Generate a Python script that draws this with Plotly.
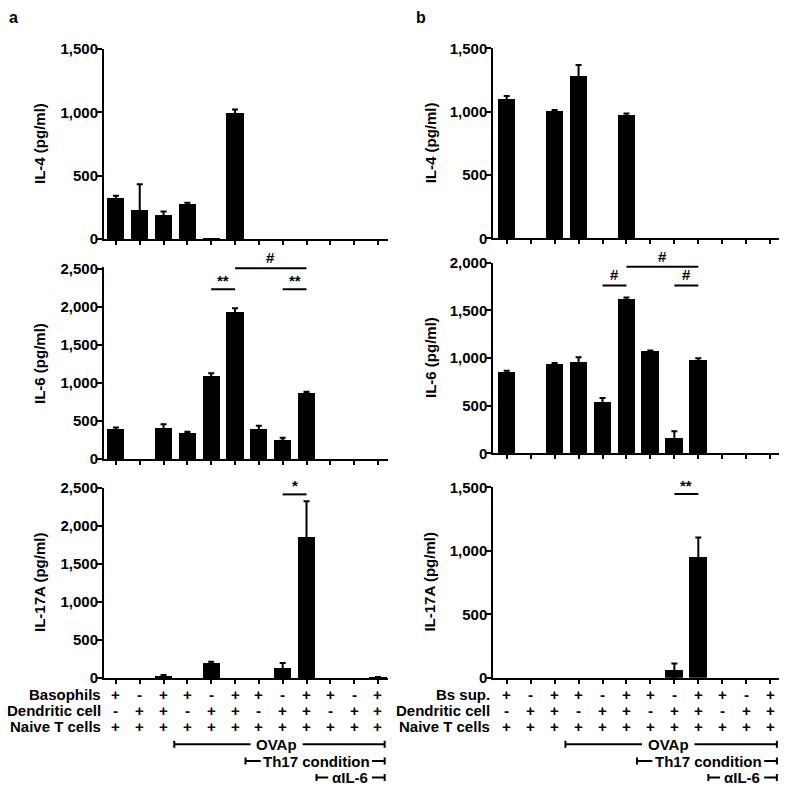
import plotly.graph_objects as go

W = H = 787          # browser window
OFF = 8              # default page margin of the html body
FW = FH = W - OFF    # figure size so that it fits exactly in the window
FONT = "Liberation Sans"

# ---------------- data ----------------
xpos = list(range(12))  # 12 culture conditions

row1_label_a = "Basophils"
row1_label_b = "Bs sup."
row2_label = "Dendritic cell"
row3_label = "Naive T cells"
row1_signs = ["+", "-", "+", "+", "-", "+", "+", "-", "+", "+", "-", "+"]
row2_signs = ["-", "+", "+", "-", "+", "+", "-", "+", "+", "-", "+", "+"]
row3_signs = ["+"] * 12

# panel a
a_il4 = [321, 227, 193, 273, 4, 992, 0, 0, 0, 0, 0, 0]
a_il4_err = [21, 206, 24, 13, 0, 30, 0, 0, 0, 0, 0, 0]
a_il6 = [395, 0, 417, 346, 1092, 1939, 399, 259, 873, 0, 0, 0]
a_il6_err = [20, 0, 40, 12, 35, 45, 40, 20, 13, 0, 0, 0]
a_il17 = [0, 0, 30, 0, 195, 0, 0, 137, 1850, 0, 0, 10]
a_il17_err = [0, 0, 10, 0, 18, 0, 0, 60, 475, 0, 0, 4]

# panel b
b_il4 = [1100, 0, 1005, 1282, 0, 968, 0, 0, 0, 0, 0, 0]
b_il4_err = [24, 0, 8, 87, 0, 18, 0, 0, 0, 0, 0, 0]
b_il6 = [853, 0, 937, 962, 538, 1622, 1073, 168, 979, 0, 0, 0]
b_il6_err = [14, 0, 10, 45, 42, 14, 7, 63, 18, 0, 0, 0]
b_il17 = [0, 0, 0, 0, 0, 0, 0, 60, 946, 0, 0, 0]
b_il17_err = [0, 0, 0, 0, 0, 0, 0, 53, 158, 0, 0, 0]

ticks_1500 = [0, 500, 1000, 1500]
ticks_2000 = [0, 500, 1000, 1500, 2000]
ticks_2500 = [0, 500, 1000, 1500, 2000, 2500]

# significance: (text, from condition, to condition, level)
sig_a_il6 = [("**", 4, 5, 2232), ("#", 5, 8, 2509), ("**", 7, 8, 2232)]
sig_a_il17 = [("*", 7, 8, 2416)]
sig_b_il6 = [("#", 4, 5, 1762), ("#", 5, 8, 1958), ("#", 7, 8, 1762)]
sig_b_il17 = [("**", 7, 8, 1448)]

# treatment brackets: (text, start, gap start, gap end, end) in condition units
brackets = [("OVAp", 2.45, 5.65, 7.84, 11.28),
            ("Th17 condition", 5.44, 6.08, 10.75, 11.28),
            ("\u03b1IL-6", 8.42, 8.91, 10.75, 11.28)]

# ---------------- layout geometry (window pixels) ----------------
panels = [
    dict(label="a", lab_x=8, xdom=(104, 388), xr=(-0.5, 11.42), title_x=39,
         row_label_x=103, row1=row1_label_a,
         rows=[
             dict(v=a_il4, e=a_il4_err, t="IL-4 (pg/ml)", ticks=ticks_1500, bot=239, top=49, rtop=1500, sig=[]),
             dict(v=a_il6, e=a_il6_err, t="IL-6 (pg/ml)", ticks=ticks_2500, bot=459, top=269, rtop=2530, sig=sig_a_il6),
             dict(v=a_il17, e=a_il17_err, t="IL-17A (pg/ml)", ticks=ticks_2500, bot=678, top=488, rtop=2500, sig=sig_a_il17),
         ]),
    dict(label="b", lab_x=415, xdom=(493.3, 780.7), xr=(-0.56, 11.44), title_x=430,
         row_label_x=492, row1=row1_label_b,
         rows=[
             dict(v=b_il4, e=b_il4_err, t="IL-4 (pg/ml)", ticks=ticks_1500, bot=238.3, top=48.3, rtop=1500, sig=[]),
             dict(v=b_il6, e=b_il6_err, t="IL-6 (pg/ml)", ticks=ticks_2000, bot=453.3, top=262.7, rtop=2000, sig=sig_b_il6),
             dict(v=b_il17, e=b_il17_err, t="IL-17A (pg/ml)", ticks=ticks_1500, bot=677.8, top=487.3, rtop=1500, sig=sig_b_il17),
         ]),
]


def pxx(px):
    return (px - OFF) / FW


def pyy(px):
    return 1 - (px - OFF) / FH


fig = go.Figure()
layout = {}
shapes = []
annotations = []
bold = dict(family=FONT, size=15, color="black", weight="bold")
LINE = dict(color="black", width=2)

idx = 0
for p in panels:
    for r in p["rows"]:
        idx += 1
        xa = "x" if idx == 1 else f"x{idx}"
        ya = "y" if idx == 1 else f"y{idx}"
        xkey = "xaxis" if idx == 1 else f"xaxis{idx}"
        ykey = "yaxis" if idx == 1 else f"yaxis{idx}"
        tick_top = r["ticks"][-1]
        span = r["bot"] - r["top"]
        dom_top = r["bot"] - span * r["rtop"] / tick_top
        layout[xkey] = dict(domain=[pxx(p["xdom"][0]), pxx(p["xdom"][1])], range=list(p["xr"]),
                            anchor=ya, showline=True, linewidth=2, linecolor="black",
                            ticks="outside", ticklen=4, tickwidth=2, tickcolor="black",
                            tickvals=xpos, showticklabels=False, showgrid=False, zeroline=False,
                            fixedrange=True, automargin=False)
        layout[ykey] = dict(domain=[pyy(r["bot"]), pyy(dom_top)], range=[0, r["rtop"]],
                            anchor=xa, showline=True, linewidth=2, linecolor="black",
                            ticks="outside", ticklen=5, tickwidth=2, tickcolor="black",
                            tickvals=r["ticks"], ticktext=[f"{v:,}" for v in r["ticks"]],
                            tickfont=bold, ticklabelstandoff=-4,
                            showgrid=False, zeroline=False, fixedrange=True, automargin=False)
        fig.add_trace(go.Bar(
            x=xpos, y=r["v"], width=0.72, marker=dict(color="black", line=dict(width=0)),
            xaxis=xa, yaxis=ya, showlegend=False, hoverinfo="skip"))
        # error bars only where an SD exists
        ex = [x for x, e in zip(xpos, r["e"]) if e > 0]
        ey = [v for v, e in zip(r["v"], r["e"]) if e > 0]
        ee = [e for e in r["e"] if e > 0]
        fig.add_trace(go.Scatter(
            x=ex, y=ey, mode="markers", marker=dict(size=1, opacity=0),
            error_y=dict(type="data", symmetric=True, array=ee, color="black", thickness=2, width=3),
            xaxis=xa, yaxis=ya, showlegend=False, hoverinfo="skip"))
        # y title
        annotations.append(dict(text=r["t"], xref="paper", yref="paper",
                                x=pxx(p["title_x"]), y=pyy((r["bot"] + r["top"]) / 2),
                                xanchor="center", yanchor="middle", textangle=-90,
                                showarrow=False, font=bold))
        # significance brackets
        for (txt, c0, c1, lvl) in r["sig"]:
            shapes.append(dict(type="line", xref=xa, yref=ya, x0=c0, x1=c1, y0=lvl, y1=lvl, line=LINE))
            annotations.append(dict(text=txt, xref=xa, yref=ya, x=(c0 + c1) / 2, y=lvl,
                                    xanchor="center", yanchor="bottom",
                                    yshift=0 if txt == "#" else -2,
                                    showarrow=False, font=bold))
    xa_bottom = "x" if idx == 1 else f"x{idx}"
    # panel letter
    annotations.append(dict(text=p["label"], xref="paper", yref="paper", x=pxx(p["lab_x"]),
                            y=1, xanchor="left", yanchor="top", showarrow=False,
                            borderpad=0,
                            font=dict(family=FONT, size=16, color="black", weight="bold")))
    # condition table
    for (lab, signs, ypx) in [(p["row1"], row1_signs, 694.3), (row2_label, row2_signs, 710),
                              (row3_label, row3_signs, 726.7)]:
        annotations.append(dict(text=lab, xref="paper", yref="paper", x=pxx(p["row_label_x"]),
                                y=pyy(ypx), xanchor="right", yanchor="middle", showarrow=False,
                                font=bold))
        for xi, s in zip(xpos, signs):
            annotations.append(dict(text=s, xref=xa_bottom, yref="paper", x=xi, y=pyy(ypx),
                                    xanchor="center", yanchor="middle", showarrow=False,
                                    font=bold))
    # treatment brackets
    for (txt, x0, g0, g1, x1), ypx in zip(brackets, [744.3, 761, 777.5]):
        for (s0, s1) in [(x0, g0), (g1, x1)]:
            shapes.append(dict(type="line", xref=xa_bottom, yref="paper", x0=s0, x1=s1,
                               y0=pyy(ypx), y1=pyy(ypx), line=LINE))
        for xe in (x0, x1):
            shapes.append(dict(type="line", xref=xa_bottom, yref="paper", x0=xe, x1=xe,
                               y0=pyy(ypx - 3.5), y1=pyy(ypx + 3.5), line=LINE))
        annotations.append(dict(text=txt, xref=xa_bottom, yref="paper", x=(g0 + g1) / 2,
                                y=pyy(ypx), xanchor="center", yanchor="middle", showarrow=False,
                                borderpad=0, font=bold))

fig.update_layout(width=FW, height=FH,
                  margin=dict(l=0, r=0, t=0, b=0, pad=0, autoexpand=False),
                  paper_bgcolor="white", plot_bgcolor="white", bargap=0,
                  shapes=shapes, annotations=annotations, **layout)

fig.write_html("out.html")
